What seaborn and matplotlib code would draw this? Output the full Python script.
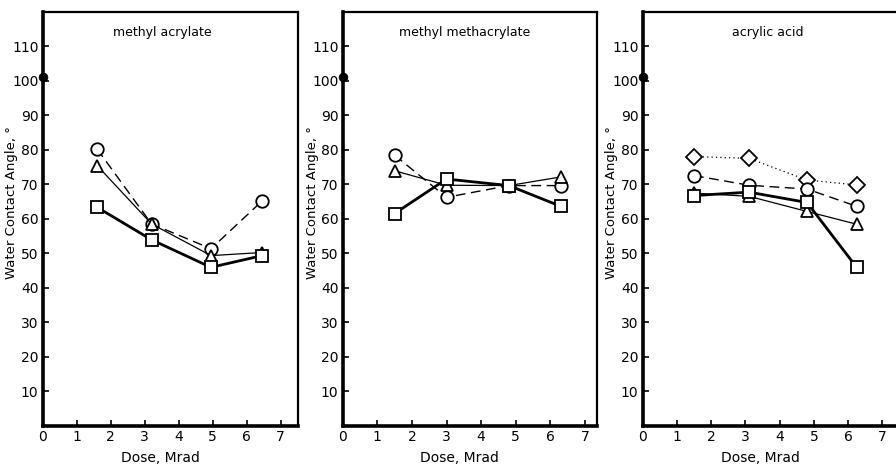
import matplotlib
matplotlib.use("Agg")
import matplotlib.pyplot as plt
import seaborn as sns
import pandas as pd

sns.set_style("ticks")
plt.rcParams['font.family'] = ['DejaVu Sans']
plt.rcParams.update({"text.color": "black", "axes.labelcolor": "black",
                     "axes.edgecolor": "black", "xtick.color": "black",
                     "ytick.color": "black"})

# ---- data ----
titles = ["methyl acrylate", "methyl methacrylate", "acrylic acid"]
untreated_angle = [101]

ma_dose = [1.6, 3.2, 4.95, 6.45]
ma_circle = [80.2, 58.5, 51.3, 65.1]
ma_triangle = [75.4, 58.5, 49.3, 50.2]
ma_square = [63.3, 53.9, 45.9, 49.3]

mma_dose = [1.5, 3.0, 4.8, 6.3]
mma_circle = [78.4, 66.2, 69.6, 69.6]
mma_triangle = [73.9, 69.7, 69.6, 72.1]
mma_square = [61.5, 71.5, 69.6, 63.6]

aa_dose = [1.5, 3.1, 4.8, 6.25]
aa_diamond = [78.0, 77.5, 71.2, 69.8]
aa_circle = [72.5, 69.7, 68.6, 63.6]
aa_triangle = [67.4, 66.5, 62.1, 58.4]
aa_square = [66.7, 67.7, 64.7, 45.9]

x_ticks = [0, 1, 2, 3, 4, 5, 6, 7]
y_ticks = [10, 20, 30, 40, 50, 60, 70, 80, 90, 100, 110]

styles = {
    "circle": dict(marker="o", linestyle=(0, (7, 4)), linewidth=1.0, markersize=9),
    "triangle": dict(marker="^", linestyle="-", linewidth=0.9, markersize=9),
    "square": dict(marker="s", linestyle="-", linewidth=2.0, markersize=9),
    "diamond": dict(marker="D", linestyle=(0, (1, 2.5)), linewidth=0.9, markersize=8.5),
}

panels = [
    (ma_dose, [("circle", ma_circle), ("triangle", ma_triangle), ("square", ma_square)]),
    (mma_dose, [("circle", mma_circle), ("triangle", mma_triangle), ("square", mma_square)]),
    (aa_dose, [("diamond", aa_diamond), ("circle", aa_circle), ("triangle", aa_triangle), ("square", aa_square)]),
]

fig = plt.figure(figsize=(8.96, 4.66), dpi=100)
lefts = [42.7, 342.7, 642.7]
widths = [255, 254, 255]
xmaxs = [7.5, 7.34, 7.45]
title_x = [0.47, 0.48, 0.49]

for i, (dose, series) in enumerate(panels):
    ax = fig.add_axes([lefts[i] / 896, 1 - 425.7 / 466, widths[i] / 896, 414 / 466])
    for kind, vals in series:
        st = styles[kind]
        df = pd.DataFrame({"dose": dose, "angle": vals})
        sns.lineplot(data=df, x="dose", y="angle", ax=ax, color="black",
                     marker=st["marker"], markersize=st["markersize"],
                     markerfacecolor="white", markeredgecolor="black",
                     markeredgewidth=1.3, linewidth=st["linewidth"],
                     linestyle=st["linestyle"], zorder=3)
    # untreated value marker on the axis
    sns.scatterplot(x=[0], y=untreated_angle, ax=ax, color="black", s=40,
                    edgecolor="black", zorder=5, clip_on=False)
    ax.set_xlim(0, xmaxs[i])
    ax.set_ylim(0, 120)
    ax.set_xticks(x_ticks)
    ax.set_yticks(y_ticks)
    ax.tick_params(direction="in", length=4, width=1.2, labelsize=10, pad=3)
    for side in ["left", "bottom"]:
        ax.spines[side].set_linewidth(2.6)
    for side in ["top", "right"]:
        ax.spines[side].set_visible(True)
        ax.spines[side].set_linewidth(1.6)
    ax.set_xlabel("Dose, Mrad", fontsize=10)
    ax.set_ylabel("Water Contact Angle, °", fontsize=9.5)
    ax.xaxis.set_label_coords(0.46, -0.06)
    ax.yaxis.set_label_coords(-0.095, 0.54)
    ax.text(title_x[i], 0.95, titles[i], transform=ax.transAxes, ha="center",
            va="center", fontsize=9)

fig.savefig("out.png", dpi=100)
